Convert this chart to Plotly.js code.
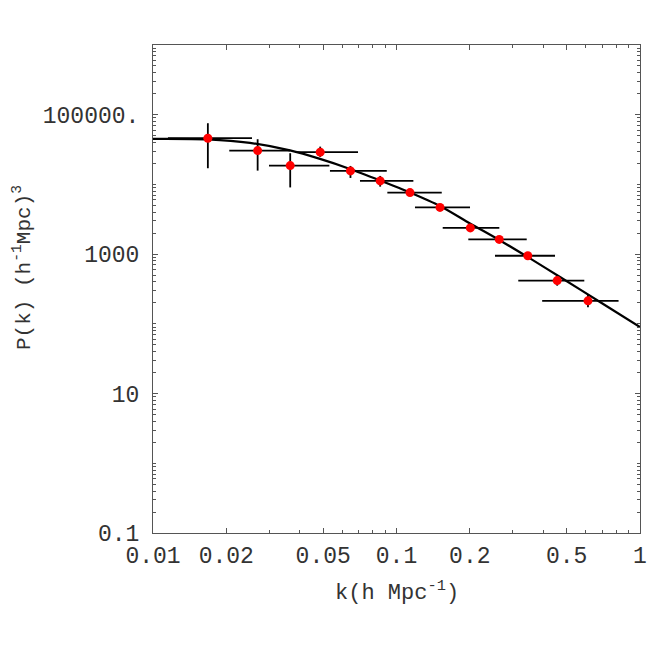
<!DOCTYPE html>
<html>
<head>
<meta charset="utf-8">
<script src="https://cdn.plot.ly/plotly-3.0.1.min.js"></script>
<style>html,body{margin:0;padding:0;background:#fff;}#chart{width:654px;height:653px;}</style>
</head>
<body>
<div id="chart"></div>
<script>
// Data points (k in h/Mpc, P in (Mpc/h)^3)
const kData  = [0.0168, 0.0269, 0.0366, 0.0486, 0.0647, 0.0857, 0.1136, 0.1509, 0.2010, 0.2642, 0.3461, 0.457, 0.6114];
const kLow   = [0.01152, 0.02057, 0.02995, 0.0389, 0.0533, 0.0708, 0.0917, 0.1191, 0.1548, 0.1972, 0.2538, 0.3163, 0.3965];
const kHigh  = [0.0255, 0.0365, 0.0530, 0.0695, 0.0912, 0.1173, 0.1534, 0.2004, 0.2644, 0.3426, 0.4477, 0.5906, 0.8165];
const pData  = [46000, 30550, 18620, 29050, 15630, 11220, 7630, 4680, 2376, 1626, 948, 417, 214];
const pLow   = [17070, 15780, 9060, 24820, 12390, 9300, 6840, 4300, 2200, 1500, 880, 353, 173];
const pHigh  = [75500, 44500, 28050, 34850, 18420, 13240, 8480, 5100, 2560, 1760, 1020, 487, 264];

// Model curve
const curveK = [0.01, 0.01682, 0.02502, 0.03652, 0.04851, 0.06442, 0.08555, 0.1136, 0.1509, 0.2004, 0.2661, 0.3534, 0.4694, 0.6850, 1.0];
const curveP = [44960, 44220, 39390, 30740, 23220, 16690, 11420, 7677, 4913, 2757, 1573, 868, 471, 206, 90.3];

// Tick labels
const xTickVals = [0.01, 0.02, 0.05, 0.1, 0.2, 0.5, 1];
const xTickText = ['0.01', '0.02', '0.05', '0.1', '0.2', '0.5', '1'];
const yTickVals = [0.1, 10, 1000, 100000];
const yTickText = ['0.1', '10', '1000', '100000.'];

const xMinor = [];
[0.01, 0.1].forEach(d => { [3,4,6,7,8,9].forEach(m => xMinor.push(d*m)); });
const yMinor = [];
[0.1, 1, 10, 100, 1000, 10000, 100000].forEach(d => { [1,2,3,4,5,6,7,8,9].forEach(m => { const v = d*m; if (yTickVals.indexOf(v) < 0) yMinor.push(v); }); });

const FONT = 'Liberation Mono, Courier New, monospace';

const traces = [
  {
    x: curveK, y: curveP, type: 'scatter', mode: 'lines',
    line: {color: '#000', width: 2.2, shape: 'spline', smoothing: 0.8},
    hoverinfo: 'skip', showlegend: false
  },
  {
    x: kData, y: pData, type: 'scatter', mode: 'markers',
    marker: {color: '#ff0000', size: 9},
    error_x: {type: 'data', symmetric: false,
      array: kHigh.map((v, i) => v - kData[i]),
      arrayminus: kLow.map((v, i) => kData[i] - v),
      color: '#000', thickness: 1.8, width: 0},
    error_y: {type: 'data', symmetric: false,
      array: pHigh.map((v, i) => v - pData[i]),
      arrayminus: pLow.map((v, i) => pData[i] - v),
      color: '#000', thickness: 1.8, width: 0},
    showlegend: false
  }
];

const axisCommon = {
  showline: true, mirror: 'ticks', linecolor: '#555', linewidth: 1,
  ticks: 'inside', ticklen: 5, tickwidth: 1, tickcolor: '#555',
  showgrid: false, zeroline: false,
  tickfont: {family: FONT, size: 23, color: '#333'}
};

const layout = {
  width: 654, height: 653,
  margin: {l: 153, r: 14, t: 45, b: 120},
  paper_bgcolor: '#fff', plot_bgcolor: '#fff',
  showlegend: false,
  xaxis: Object.assign({}, axisCommon, {
    type: 'log', range: [-2, 0],
    tickmode: 'array', tickvals: xTickVals, ticktext: xTickText,
    ticklabelstandoff: 1,
    minor: {tickmode: 'array', tickvals: xMinor, ticks: 'inside', ticklen: 3, tickcolor: '#555', showgrid: false}
  }),
  yaxis: Object.assign({}, axisCommon, {
    type: 'log', range: [-1, 6],
    tickmode: 'array', tickvals: yTickVals, ticktext: yTickText,
    ticklabelstandoff: 8,
    minor: {tickmode: 'array', tickvals: yMinor, ticks: 'inside', ticklen: 3, tickcolor: '#555', showgrid: false}
  }),
  annotations: [
    {text: 'k(h Mpc<sup>-1</sup>)', xref: 'paper', yref: 'paper',
     x: 0.5, y: (533 - 591) / 488, xanchor: 'center', yanchor: 'middle',
     showarrow: false, font: {family: FONT, size: 22, color: '#333'}},
    {text: 'P(k) (h<sup>-1</sup>Mpc)<sup>3</sup>', xref: 'paper', yref: 'paper',
     x: (22 - 153) / 487, y: (533 - 268) / 488, xanchor: 'center', yanchor: 'middle',
     textangle: -90, showarrow: false, font: {family: FONT, size: 21, color: '#333'}}
  ]
};

Plotly.newPlot('chart', traces, layout, {displayModeBar: false, staticPlot: true});
</script>
</body>
</html>
